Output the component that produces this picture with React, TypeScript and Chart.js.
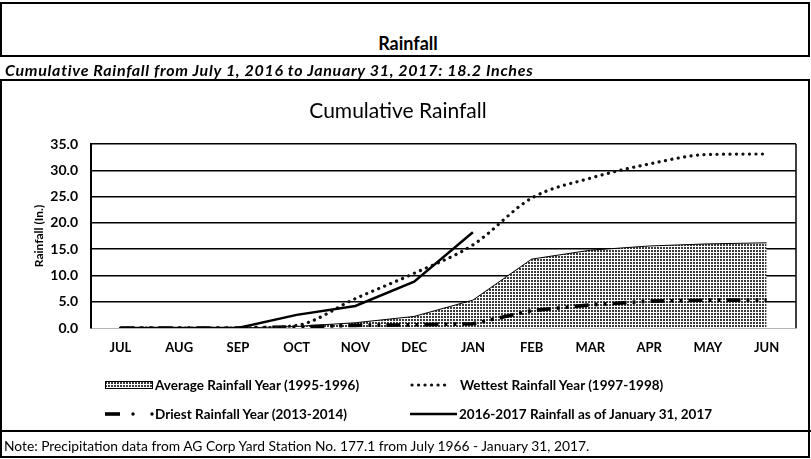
import React, { useEffect, useRef } from "react";
import { Chart, registerables } from "chart.js";
Chart.register(...registerables);

const months = ["JUL", "AUG", "SEP", "OCT", "NOV", "DEC", "JAN", "FEB", "MAR", "APR", "MAY", "JUN"];
const averageYear = [0, 0, 0, 0.3, 1.0, 2.2, 5.3, 13.1, 14.8, 15.6, 16.0, 16.2];
const wettestYear = [0, 0, 0, 0.5, 5.6, 10.4, 15.8, 24.7, 28.5, 31.2, 33.0, 33.1];
const driestYear = [0, 0, 0, 0.2, 0.5, 0.6, 0.8, 3.3, 4.4, 5.1, 5.3, 5.3];
const currentYear = [0, 0, 0, 2.5, 4.2, 8.8, 18.2];
const yMin = 0;
const yMax = 35;
const yStep = 5;

const seriesLabels = [
  "2016-2017 Rainfall as of January 31, 2017",
  "Wettest Rainfall Year (1997-1998)",
  "Driest Rainfall Year (2013-2014)",
  "Average Rainfall Year (1995-1996)",
];

const FONT = "Lato, 'Noto Sans', sans-serif";

function makeDotPattern(ctx: CanvasRenderingContext2D) {
  const c = document.createElement("canvas");
  c.width = 3;
  c.height = 3;
  const g = c.getContext("2d")!;
  g.fillStyle = "#ffffff";
  g.fillRect(0, 0, 3, 3);
  g.fillStyle = "#3a3a3a";
  g.fillRect(0, 0, 2, 2);
  return ctx.createPattern(c, "repeat");
}

const rightFrame = {
  id: "rightFrame",
  afterDatasetsDraw(chart: any) {
    const { ctx, chartArea } = chart;
    ctx.save();
    ctx.strokeStyle = "#000";
    ctx.lineWidth = 1.5;
    ctx.beginPath();
    ctx.moveTo(chartArea.right, chartArea.top);
    ctx.lineTo(chartArea.right, chartArea.bottom);
    ctx.stroke();
    ctx.restore();
  },
};

function ChartCanvas() {
  const ref = useRef<HTMLCanvasElement | null>(null);
  useEffect(() => {
    const canvas = ref.current!;
    const ctx = canvas.getContext("2d")!;
    const pattern = makeDotPattern(ctx);
    const chart = new Chart(canvas, {
      type: "line",
      data: {
        labels: months,
        datasets: [
          {
            label: seriesLabels[0],
            data: currentYear,
            borderColor: "#000",
            borderWidth: 2.5,
            pointRadius: 0,
            fill: false,
            order: 1,
          },
          {
            label: seriesLabels[1],
            data: wettestYear,
            borderColor: "#111",
            borderWidth: 3.2,
            borderDash: [0.1, 6.4],
            borderCapStyle: "round",
            cubicInterpolationMode: "monotone",
            pointRadius: 0,
            fill: false,
            order: 2,
          },
          {
            label: seriesLabels[2],
            data: driestYear,
            borderColor: "#000",
            borderWidth: 3.6,
            borderDash: [14, 6, 3, 6, 3, 6],
            borderCapStyle: "butt",
            pointRadius: 0,
            fill: false,
            order: 3,
          },
          {
            label: seriesLabels[3],
            data: averageYear,
            borderColor: "#000",
            borderWidth: 1,
            backgroundColor: pattern as any,
            fill: "origin",
            pointRadius: 0,
            order: 4,
          },
        ],
      },
      options: {
        animation: false,
        responsive: false,
        maintainAspectRatio: false,
        layout: { padding: { left: 0, right: 15, top: 0, bottom: 0 } },
        plugins: {
          legend: { display: false },
          tooltip: { enabled: false },
          title: {
            display: true,
            text: "Cumulative Rainfall",
            color: "#000",
            font: { family: FONT, size: 21, weight: "normal", lineHeight: 1.2 },
            padding: { top: 16.4, bottom: 20.4 },
          },
        },
        scales: {
          x: {
            offset: true,
            grid: { display: false, drawTicks: false },
            border: { display: true, color: "#b5b5b5", width: 1 },
            ticks: {
              color: "#000",
              padding: 12,
              font: { family: FONT, size: 13, weight: "bold" },
              maxRotation: 0,
            },
            afterFit(scale: any) {
              scale.height = 34;
            },
          },
          y: {
            min: yMin,
            max: yMax,
            ticks: {
              stepSize: yStep,
              color: "#000",
              padding: 13,
              font: { family: FONT, size: 14, weight: "bold" },
              callback: (v: any) => Number(v).toFixed(1),
            },
            grid: {
              drawTicks: false,
              color: (c: any) => (c.tick && c.tick.value === 0 ? "rgba(0,0,0,0)" : "#000"),
              lineWidth: 1.5,
            },
            border: { display: true, color: "#000", width: 2 },
            title: {
              display: true,
              text: "Rainfall (In.)",
              color: "#000",
              font: { family: FONT, size: 12, weight: "bold" },
              padding: { top: 32, bottom: 0 },
            },
            afterFit(scale: any) {
              scale.width = 91;
            },
          },
        },
      },
      plugins: [rightFrame],
    });
    return () => chart.destroy();
  }, []);
  return (
    <canvas
      ref={ref}
      width={811}
      height={280}
      style={{ position: "absolute", left: 0, top: 82, width: 811, height: 280 }}
    />
  );
}

function Text(props: {
  x: number;
  cy: number;
  size: number;
  weight?: string;
  italic?: boolean;
  spacing?: number;
  children: any;
  center?: boolean;
}) {
  const h = 24;
  return (
    <div
      style={{
        position: "absolute",
        left: props.center ? props.x - 300 : props.x,
        width: props.center ? 600 : undefined,
        textAlign: props.center ? "center" : "left",
        top: props.cy - h / 2,
        height: h,
        lineHeight: h + "px",
        fontSize: props.size,
        fontWeight: (props.weight as any) || "normal",
        fontStyle: props.italic ? "italic" : "normal",
        letterSpacing: props.spacing ? props.spacing + "px" : undefined,
        whiteSpace: "nowrap",
        color: "#000",
      }}
    >
      {props.children}
    </div>
  );
}

function Swatch(props: { x: number; cy: number; w: number; kind: string }) {
  const h = 12;
  const { w, kind } = props;
  let inner: any = null;
  if (kind === "area") {
    inner = (
      <>
        <defs>
          <pattern id="dotpat" width="3" height="3" patternUnits="userSpaceOnUse">
            <rect width="3" height="3" fill="#fff" />
            <rect width="2" height="2" fill="#3a3a3a" />
          </pattern>
        </defs>
        <rect x="0.5" y="2.5" width={w - 1} height="7" fill="url(#dotpat)" stroke="#000" strokeWidth="1" />
      </>
    );
  } else if (kind === "dots") {
    inner = (
      <line x1="2" y1="6" x2={w - 2} y2="6" stroke="#111" strokeWidth="3.2" strokeDasharray="0.1 6.4" strokeLinecap="round" />
    );
  } else if (kind === "dashdot") {
    inner = (
      <>
        <line x1="0" y1="6" x2="15" y2="6" stroke="#000" strokeWidth="3.6" />
        <circle cx="28" cy="6" r="1.7" fill="#000" />
        <circle cx="47" cy="6" r="1.7" fill="#000" />
      </>
    );
  } else {
    inner = <line x1="0" y1="6" x2={w} y2="6" stroke="#000" strokeWidth="2.5" />;
  }
  return (
    <svg
      width={w}
      height={h}
      style={{ position: "absolute", left: props.x, top: props.cy - h / 2 }}
    >
      {inner}
    </svg>
  );
}

function HLine(props: { y: number }) {
  return (
    <div style={{ position: "absolute", left: 0, top: props.y, width: 811, height: 2, background: "#000" }} />
  );
}

function Box(props: { top: number; height: number }) {
  return (
    <div
      style={{
        position: "absolute",
        left: 0,
        top: props.top,
        width: 810,
        height: props.height,
        border: "2px solid #000",
        boxSizing: "border-box",
      }}
    />
  );
}

export default function App() {
  return (
    <div
      style={{
        position: "absolute",
        left: 0,
        top: 0,
        width: 811,
        height: 459,
        background: "#fff",
        fontFamily: FONT,
        overflow: "hidden",
      }}
    >
      <ChartCanvas />
      {/* frames */}
      <Box top={2} height={55} />
      <Box top={79} height={379} />
      <HLine y={430} />
      <Text x={408} cy={43} size={18} weight="bold" center>
        Rainfall
      </Text>
      <Text x={5} cy={70} size={16} weight="bold" italic spacing={0.7}>
        Cumulative Rainfall from July 1, 2016 to January 31, 2017: 18.2 Inches
      </Text>

      {/* legend */}
      <Swatch x={105} cy={385} w={48} kind="area" />
      <Text x={155} cy={385} size={13.5} weight="bold">
        {seriesLabels[3]}
      </Text>
      <Swatch x={410} cy={385} w={42} kind="dots" />
      <Text x={460} cy={385} size={13.5} weight="bold">
        {seriesLabels[1]}
      </Text>
      <Swatch x={105} cy={414} w={50} kind="dashdot" />
      <Text x={155} cy={414} size={13.5} weight="bold">
        {seriesLabels[2]}
      </Text>
      <Swatch x={410} cy={414} w={47} kind="solid" />
      <Text x={459} cy={414} size={13.5} weight="bold">
        {seriesLabels[0]}
      </Text>

      <Text x={4} cy={446} size={13.8}>
        Note: Precipitation data from AG Corp Yard Station No. 177.1 from July 1966 - January 31, 2017.
      </Text>
    </div>
  );
}
